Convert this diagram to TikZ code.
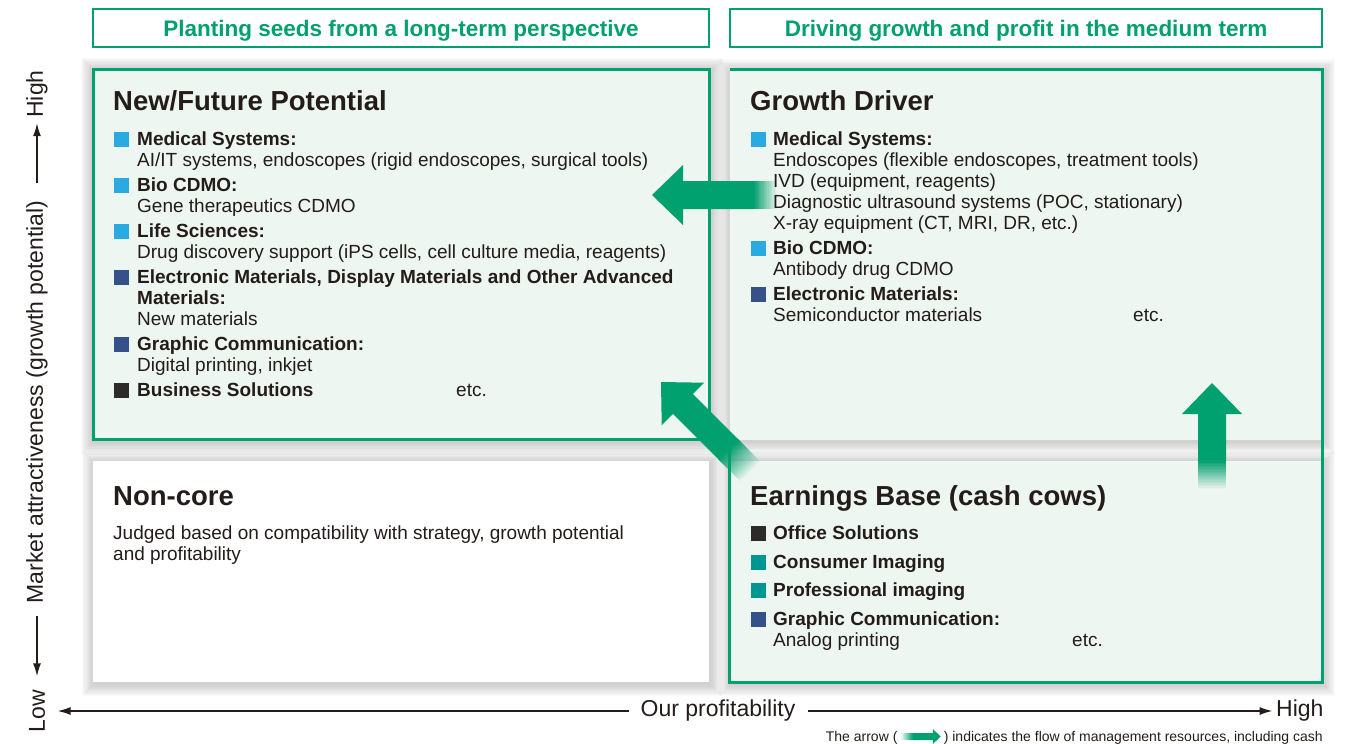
\documentclass[tikz,border=0pt]{standalone}
\usepackage{fontspec}
\setmainfont{Liberation Sans}
\usepackage{tikz}
\usetikzlibrary{arrows.meta,backgrounds}
\definecolor{mgreen}{RGB}{0,161,110}
\definecolor{mint}{RGB}{237,246,241}
\definecolor{ink}{RGB}{35,28,26}
\definecolor{cyanb}{RGB}{41,171,226}
\definecolor{navyb}{RGB}{53,81,138}
\definecolor{darkb}{RGB}{45,42,42}
\definecolor{tealb}{RGB}{0,150,145}
\newcommand{\flowarrow}[4]{%
  \begin{scope}[shift={#1},#2]
    \fill[mgreen] (0,0) -- (31,-30) -- (31,-14) -- (#3,-14) -- (#3,14) -- (31,14) -- (31,30) -- cycle;
    \foreach \i [evaluate=\i as \op using {\i<19 ? 1/(\i+1.5) : 0.025}] in {0,...,19}
      \fill[mgreen,opacity=\op] ({#3-0.5},-14) rectangle ({#3+(\i+1)*#4/20},14);
  \end{scope}}

\begin{document}
\begin{tikzpicture}[x=1pt,y=-1pt,
  every node/.style={text=ink},
  hdr/.style={draw=mgreen, line width=1.2pt, text=mgreen, font=\bfseries\fontsize{22.5}{24}\selectfont, minimum height=38pt, text height=20pt, text depth=4pt},
  panel/.style={fill=mint, inner sep=0},
  ttl/.style={font=\bfseries\fontsize{27.5}{30}\selectfont, anchor=base west, inner sep=0},
  lab/.style={font=\bfseries\fontsize{19}{21}\selectfont, anchor=base west, inner sep=0},
  txt/.style={font=\fontsize{19}{21}\selectfont, anchor=base west, inner sep=0},
  sq/.style={fill=#1, minimum size=15pt, inner sep=0},
  axl/.style={font=\fontsize{23}{25}\selectfont},
  axarrow/.style={draw=ink, line width=1.6pt, -{Latex[length=13pt,width=8pt]}},
  note/.style={font=\fontsize{14}{16}\selectfont, inner sep=0}]
  \useasboundingbox (0,0) rectangle (1352,744);

  \node[hdr, minimum width=616pt] (hl) at (401,28) {Planting seeds from a long-term perspective};
  \node[hdr, minimum width=592pt] (hr) at (1026,28) {Driving growth and profit in the medium term};

  \node[panel, minimum width=616pt, minimum height=370pt, draw=mgreen, line width=3pt] (nf) at (401,254) {};
  \node[panel, minimum width=592pt, minimum height=370pt] (gd) at (1026,254.5) {};
  \node[panel, fill=white, minimum width=616pt, minimum height=221pt] (nc) at (401,571.5) {};
  \node[panel, minimum width=592pt, minimum height=221pt] (eb) at (1026,571.5) {};
  \begin{scope}[on background layer]
    \foreach \p in {nf,gd,nc,eb}
      \foreach \i in {1,...,10}
        \fill[black,opacity=0.02] ([shift={({-1.2*\i+1},{-1.2*\i+2})}]\p.north west) rectangle ([shift={({1.2*\i+1},{1.2*\i+2})}]\p.south east);
  \end{scope}
  \draw[mgreen, line width=3pt] (gd.south west) -- (eb.south west) -- (eb.south east) -- (gd.north east) -- (gd.north west);

  \flowarrow{(652,195)}{}{101}{24}
  \flowarrow{(661,382)}{rotate=-45}{95}{32}
  \flowarrow{(1212,383)}{rotate=-90}{77}{29}

  \node[ttl] (nft) at (113,110) {New/Future Potential};
  \node[sq=cyanb] (nfs1) at (121.5,139) {};
  \node[lab] (nf1) at (137,145) {Medical Systems:};
  \node[txt] (nf1a) at (137,166) {AI/IT systems, endoscopes (rigid endoscopes, surgical tools)};
  \node[sq=cyanb] (nfs2) at (121.5,185) {};
  \node[lab] (nf2) at (137,191) {Bio CDMO:};
  \node[txt] (nf2a) at (137,212) {Gene therapeutics CDMO};
  \node[sq=cyanb] (nfs3) at (121.5,231) {};
  \node[lab] (nf3) at (137,237) {Life Sciences:};
  \node[txt] (nf3a) at (137,258) {Drug discovery support (iPS cells, cell culture media, reagents)};
  \node[sq=navyb] (nfs4) at (121.5,277) {};
  \node[lab] (nf4) at (137,283) {Electronic Materials, Display Materials and Other Advanced};
  \node[lab] (nf4b) at (137,304) {Materials:};
  \node[txt] (nf4a) at (137,325) {New materials};
  \node[sq=navyb] (nfs5) at (121.5,344) {};
  \node[lab] (nf5) at (137,350) {Graphic Communication:};
  \node[txt] (nf5a) at (137,371) {Digital printing, inkjet};
  \node[sq=darkb] (nfs6) at (121.5,390) {};
  \node[lab] (nf6) at (137,396) {Business Solutions};
  \node[txt] (nf6a) at (456,396) {etc.};

  \node[ttl] (gdt) at (750,110) {Growth Driver};
  \node[sq=cyanb] (gds1) at (758.5,139) {};
  \node[lab] (gd1) at (773,145) {Medical Systems:};
  \node[txt] (gd1a) at (773,166) {Endoscopes (flexible endoscopes, treatment tools)};
  \node[txt] (gd1b) at (773,187) {IVD (equipment, reagents)};
  \node[txt] (gd1c) at (773,208) {Diagnostic ultrasound systems (POC, stationary)};
  \node[txt] (gd1d) at (773,229) {X-ray equipment (CT, MRI, DR, etc.)};
  \node[sq=cyanb] (gds2) at (758.5,248) {};
  \node[lab] (gd2) at (773,254) {Bio CDMO:};
  \node[txt] (gd2a) at (773,275) {Antibody drug CDMO};
  \node[sq=navyb] (gds3) at (758.5,294) {};
  \node[lab] (gd3) at (773,300) {Electronic Materials:};
  \node[txt] (gd3a) at (773,321) {Semiconductor materials};
  \node[txt] (gd3b) at (1133,321) {etc.};

  \node[ttl] (nct) at (113,505) {Non-core};
  \node[txt] (nc1) at (113,539) {Judged based on compatibility with strategy, growth potential};
  \node[txt] (nc2) at (113,560) {and profitability};

  \node[ttl] (ebt) at (750,505) {Earnings Base (cash cows)};
  \node[sq=darkb] (ebs1) at (758.5,533) {};
  \node[lab] (eb1) at (773,539) {Office Solutions};
  \node[sq=tealb] (ebs2) at (758.5,562) {};
  \node[lab] (eb2) at (773,568) {Consumer Imaging};
  \node[sq=tealb] (ebs3) at (758.5,590) {};
  \node[lab] (eb3) at (773,596) {Professional imaging};
  \node[sq=navyb] (ebs4) at (758.5,619) {};
  \node[lab] (eb4) at (773,625) {Graphic Communication:};
  \node[txt] (eb4a) at (773,646) {Analog printing};
  \node[txt] (eb4b) at (1072,646) {etc.};

  \node[axl, rotate=90] (va) at (37,402) {Market attractiveness (growth potential)};
  \node[axl, rotate=90] (vhigh) at (37,94) {High};
  \node[axl, rotate=90] (vlow) at (37,711) {Low};
  \node[axl] (hp) at (718,711) {Our profitability};
  \node[axl, anchor=east] (hhigh) at (1327,711) {High};
  \draw[axarrow, shorten <=14pt, shorten >=2pt] (va) -- (vhigh);
  \draw[axarrow, shorten <=9pt, shorten >=10pt] (va) -- (vlow);
  \draw[axarrow, shorten <=8pt, shorten >=9pt] (hp) -- (vlow);
  \draw[axarrow, shorten <=9pt] (hp) -- (hhigh);

  \node[note, anchor=base east] (fnb) at (1323,741) {) indicates the flow of management resources, including cash};
  \coordinate (fntip) at ([xshift=-3pt,yshift=4.5pt]fnb.base west);
  \flowarrow{(fntip)}{rotate=180,scale=0.25}{110}{50}
  \node[note, anchor=base east] (fna) at ([xshift=-46pt]fnb.base west) {The arrow (};
\end{tikzpicture}
\end{document}
